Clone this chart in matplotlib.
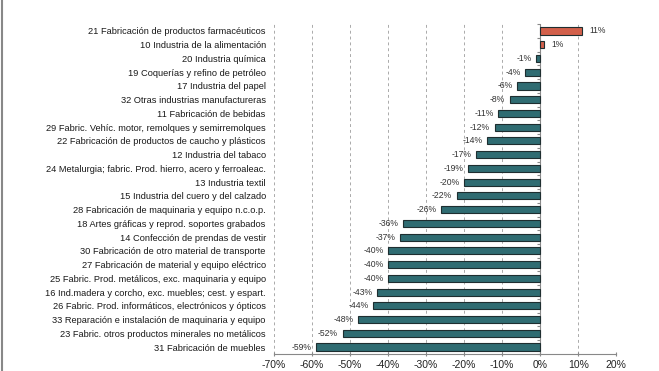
import matplotlib
matplotlib.use("Agg")
import matplotlib.pyplot as plt
import numpy as np

categories = [
    "21 Fabricación de productos farmacéuticos",
    "10 Industria de la alimentación",
    "20 Industria química",
    "19 Coquerías y refino de petróleo",
    "17 Industria del papel",
    "32 Otras industrias manufactureras",
    "11 Fabricación de bebidas",
    "29 Fabric. Vehíc. motor, remolques y semirremolques",
    "22 Fabricación de productos de caucho y plásticos",
    "12 Industria del tabaco",
    "24 Metalurgia; fabric. Prod. hierro, acero y ferroaleac.",
    "13 Industria textil",
    "15 Industria del cuero y del calzado",
    "28 Fabricación de maquinaria y equipo n.c.o.p.",
    "18 Artes gráficas y reprod. soportes grabados",
    "14 Confección de prendas de vestir",
    "30 Fabricación de otro material de transporte",
    "27 Fabricación de material y equipo eléctrico",
    "25 Fabric. Prod. metálicos, exc. maquinaria y equipo",
    "16 Ind.madera y corcho, exc. muebles; cest. y espart.",
    "26 Fabric. Prod. informáticos, electrónicos y ópticos",
    "33 Reparación e instalación de maquinaria y equipo",
    "23 Fabric. otros productos minerales no metálicos",
    "31 Fabricación de muebles",
]
values = [11, 1, -1, -4, -6, -8, -11, -12, -14, -17, -19, -20, -22, -26,
          -36, -37, -40, -40, -40, -43, -44, -48, -52, -59]
xticks = [-70, -60, -50, -40, -30, -20, -10, 0, 10, 20]

plt.rcParams['font.family'] = ['Liberation Sans', 'DejaVu Sans']

fig = plt.figure(figsize=(6.59, 3.71), dpi=100)
ax = fig.add_axes([0.416, 0.046, 0.519, 0.889])

n = len(categories)
y = np.arange(n)
colors = ['#D2604B' if v > 0 else '#2F6C72' for v in values]
ax.barh(y, values, height=0.52, color=colors, edgecolor='#1E2E30', linewidth=0.8, zorder=3)

for yi, v in zip(y, values):
    if v >= 0:
        ax.text(v + 2.0, yi, f"{v}%", va='center', ha='left', fontsize=6.2, color='#333333', zorder=4)
    else:
        ax.text(v - 1.2, yi, f"{v}%", va='center', ha='right', fontsize=6.2, color='#333333', zorder=4)

ax.set_xlim(-70, 20)
ax.set_ylim(n - 0.5, -0.5)
ax.set_xticks(xticks)
ax.set_xticklabels([f"{t}%" for t in xticks], fontsize=7.5, color='#222222')
ax.set_yticks(y)
ax.set_yticklabels(categories, fontsize=6.7, color='#1A1A1A')
ax.tick_params(axis='y', length=0, pad=6)
ax.tick_params(axis='x', length=3, direction='inout', color='#888888', pad=3)

for t in xticks:
    if t != 0:
        ax.axvline(t, color='#AAAAAA', linestyle=(0, (3, 3)), linewidth=0.7, zorder=1)
ax.axvline(0, color='#888888', linewidth=0.8, zorder=2)

for s in ['top', 'right', 'left']:
    ax.spines[s].set_visible(False)
ax.spines['bottom'].set_color('#888888')
ax.spines['bottom'].set_linewidth(0.8)

# small boundary ticks on the zero axis
sec = ax.secondary_yaxis(70 / 90)
sec.set_yticks(np.arange(n + 1) - 0.5)
sec.set_yticklabels([])
sec.spines['right'].set_visible(False)
sec.spines['left'].set_visible(False)
sec.tick_params(axis='y', length=2.5, direction='out', color='#888888', which='major', left=True, right=False)

# left border of the figure
fig.add_artist(plt.Line2D([0.003, 0.003], [0, 1], transform=fig.transFigure, color='#888888', linewidth=1.5))

fig.savefig('out.png', dpi=100)
